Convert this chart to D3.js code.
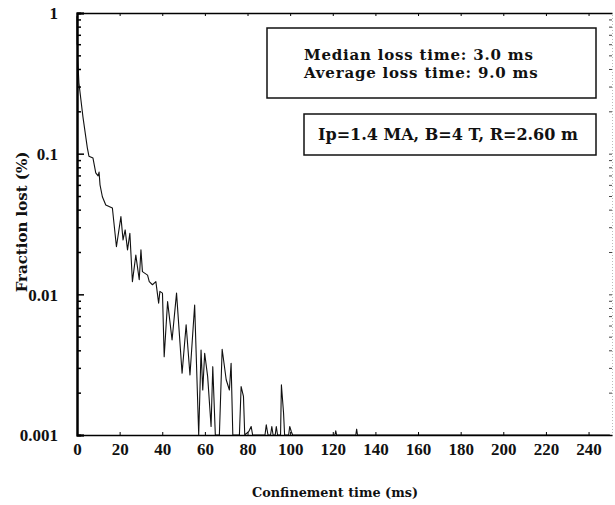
<!DOCTYPE html>
<html>
<head>
<meta charset="utf-8">
<script src="https://cdn.jsdelivr.net/npm/d3@7"></script>
<style>
  body { margin: 0; background: #fff; }
  text { font-family: "DejaVu Serif", serif; font-weight: bold; fill: #111; }
</style>
</head>
<body>
<div id="chart"></div>
<script>
// confinement time (ms) and fraction lost (%), 0 = below the floor
const times = [0, 0.1, 0.2, 0.3, 0.5, 0.9, 2.8, 4.85, 5.6, 7.5, 8.8, 9.9, 10.35, 10.8, 11.9, 13.5,
  16.6, 18.5, 20.6, 21.6, 22.6, 23.7, 24.8, 26, 27.6, 29.2, 30, 30.7, 33.1, 33.9, 35.4, 37,
  38.3, 38.9, 40.1, 40.9, 42.5, 44.6, 46.7, 49.3, 51.2, 53, 55.2, 57.1, 58.2, 59, 59.9, 61.3,
  62.9, 63.7, 64.9, 66.8, 68.1, 70, 71.5, 72.3, 73.1, 76.2, 77, 78.1, 78.7, 80.6, 81.7, 82.4,
  88.2, 88.8, 89.6, 90.8, 91.4, 92, 93, 93.5, 94.1, 95.5, 95.9, 96.9, 97.4, 99.3, 99.8, 100.6,
  101.2, 121, 121.4, 121.8, 130.8, 131.2, 131.6, 250];
const fractions = [0.95, 0.6, 0.72, 0.48, 0.42, 0.318, 0.182, 0.11, 0.096, 0.093, 0.073, 0.0695, 0.074, 0.06, 0.0494, 0.0432,
  0.0411, 0.0218, 0.0357, 0.0244, 0.0287, 0.0207, 0.0272, 0.0123, 0.019, 0.0127, 0.0207, 0.0145, 0.0137, 0.0123, 0.0117, 0.0123,
  0.00865, 0.0105, 0.0102, 0.0036, 0.00887, 0.00474, 0.0102, 0.00275, 0.00607, 0.00267, 0.0084, 0, 0.00402, 0.00209, 0.00381, 0.0026,
  0.00115, 0.00306, 0, 0, 0.00407, 0.00247, 0.00209, 0.00324, 0, 0, 0.00221, 0.00188, 0, 0.00106, 0.00115, 0,
  0, 0.00118, 0, 0, 0.00115, 0, 0, 0.00115, 0, 0, 0.00227, 0.00144, 0, 0, 0.00115, 0.00105,
  0, 0, 0.00107, 0, 0, 0.0011, 0, 0];

const xTicks = [0, 20, 40, 60, 80, 100, 120, 140, 160, 180, 200, 220, 240];
const yTicks = [1, 0.1, 0.01, 0.001];
const yTickLabels = ['1', '0.1', '0.01', '0.001'];
const statLines = ['Median loss time: 3.0 ms', 'Average loss time: 9.0 ms'];
const paramLine = 'Ip=1.4 MA, B=4 T, R=2.60 m';

const width = 615, height = 505;
const margin = {top: 13, right: 3, bottom: 70, left: 77};
const tickFont = '"Liberation Serif", "Times New Roman", serif';

const svg = d3.select('#chart').append('svg')
  .attr('width', width)
  .attr('height', height);

const x = d3.scaleLinear()
  .domain([0, 251])
  .range([margin.left, width - margin.right]);

const y = d3.scaleLog()
  .domain([0.001, 1])
  .range([height - margin.bottom, margin.top])
  .clamp(true);

const data = times.map((t, i) => ({t, f: fractions[i]}));

// curve
svg.append('path')
  .datum(data)
  .attr('fill', 'none')
  .attr('stroke', '#111')
  .attr('stroke-width', 1.1)
  .attr('stroke-linejoin', 'round')
  .attr('d', d3.line().x(d => x(d.t)).y(d => y(d.f)));

// left axis: decades with labels, minor ticks unlabeled
const minor = y.ticks().filter(v => !yTicks.some(m => Math.abs(v - m) < m * 1e-6));
const gl = svg.append('g').attr('transform', `translate(${margin.left},0)`);
gl.call(d3.axisLeft(y).tickValues(yTicks).tickSize(-7).tickPadding(19).tickFormat((d, i) => yTickLabels[i]));
gl.append('g').call(d3.axisLeft(y).tickValues(minor).tickSize(-4).tickFormat(''));
gl.selectAll('.domain').attr('stroke-width', 2);
gl.selectAll('line').attr('stroke-width', 1.5);
gl.selectAll('text')
  .style('font-family', tickFont)
  .style('font-size', '17px')
  .attr('text-anchor', 'end')
  .attr('dy', '0.35em');

// right axis, faint with small ticks
const gr = svg.append('g').attr('transform', `translate(${width - margin.right},0)`);
gr.call(d3.axisRight(y).tickValues(y.ticks()).tickSize(-3).tickFormat(''));
gr.select('.domain').attr('stroke', '#bbb').attr('stroke-dasharray', '1,2');
gr.selectAll('line').attr('stroke', '#444');

// bottom axis
const gb = svg.append('g').attr('transform', `translate(0,${height - margin.bottom})`);
gb.call(d3.axisBottom(x).tickValues(xTicks).tickSize(-3).tickPadding(8).tickSizeOuter(0));
gb.select('.domain').attr('stroke-width', 1.5);
gb.selectAll('text')
  .style('font-family', tickFont)
  .style('font-size', '17px');

// top axis
const gt = svg.append('g').attr('transform', `translate(0,${margin.top})`);
gt.call(d3.axisTop(x).tickValues(xTicks).tickSize(-3).tickFormat('').tickSizeOuter(0));
gt.select('.domain').attr('stroke-width', 1.5);

// axis titles
svg.append('text')
  .attr('x', 335)
  .attr('y', 497)
  .attr('text-anchor', 'middle')
  .attr('font-size', 12.8)
  .text('Confinement time (ms)');

svg.append('text')
  .attr('transform', 'translate(27,222) rotate(-90)')
  .attr('text-anchor', 'middle')
  .attr('font-size', 15)
  .text('Fraction lost (%)');

// annotation boxes
svg.append('rect')
  .attr('x', 267).attr('y', 28).attr('width', 329).attr('height', 70)
  .attr('fill', '#fff').attr('stroke', '#111').attr('stroke-width', 1.5);
svg.append('g')
  .selectAll('text')
  .data(statLines)
  .join('text')
  .attr('x', 304)
  .attr('y', (d, i) => 60 + i * 18)
  .attr('font-size', 15)
  .attr('letter-spacing', 0.8)
  .text(d => d);

svg.append('rect')
  .attr('x', 304).attr('y', 114).attr('width', 292).attr('height', 41)
  .attr('fill', '#fff').attr('stroke', '#111').attr('stroke-width', 1.5);
svg.append('text')
  .attr('x', 318).attr('y', 140)
  .attr('font-size', 16)
  .text(paramLine);
</script>
</body>
</html>
